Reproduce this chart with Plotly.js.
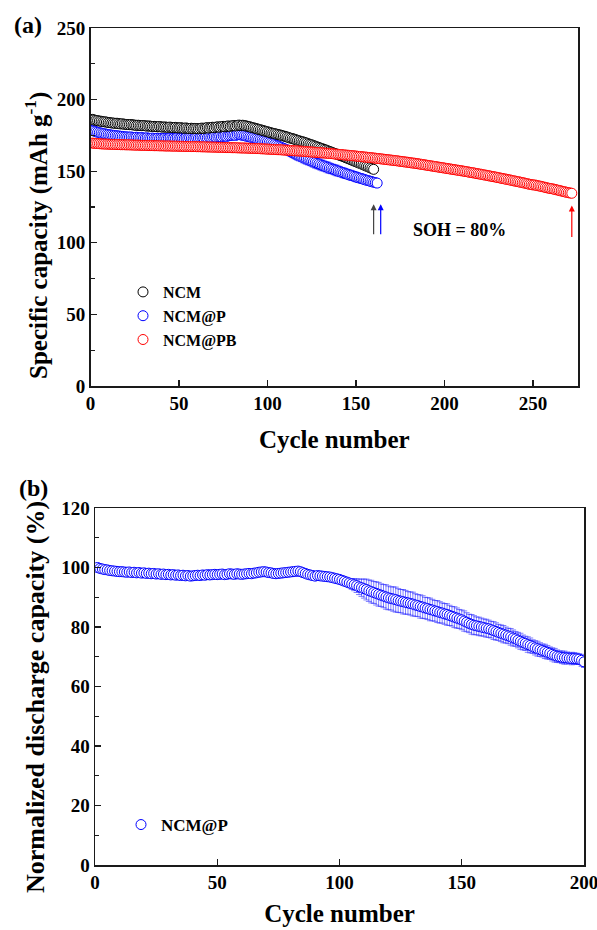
<!DOCTYPE html>
<html>
<head>
<meta charset="utf-8">
<script src="https://cdn.plot.ly/plotly-3.0.1.min.js"></script>
<style>html,body{margin:0;padding:0;background:#fff;}#chart{width:597px;height:930px;}</style>
</head>
<body>
<div id="chart"></div>
<script>
// ---------- Panel (a): specific capacity (mAh g-1) per cycle ----------
const ncmCap = [
186.2,185.8,185.5,185.3,185.0,184.9,184.6,184.5,184.3,184.0,
183.9,183.7,183.6,183.4,183.5,183.2,183.0,183.1,182.8,182.7,
182.6,182.5,182.6,182.3,182.2,182.0,182.1,181.9,181.8,181.9,
181.7,181.5,181.6,181.4,181.2,181.3,181.1,181.0,181.2,180.9,
180.8,180.9,180.7,180.6,180.8,180.5,180.4,180.6,180.3,180.2,
180.4,180.1,180.0,180.2,179.9,179.8,180.0,179.7,179.9,179.8,
179.6,179.9,180.1,179.8,180.2,180.4,180.1,180.5,180.7,180.4,
180.8,181.0,180.7,181.1,181.3,181.0,181.4,181.6,181.3,181.7,
181.9,181.6,182.0,182.2,181.9,182.1,181.8,181.6,181.3,181.0,
180.6,180.3,180.0,179.6,179.3,178.9,178.6,178.2,177.9,177.5,
177.2,176.8,176.5,176.2,175.9,175.6,175.3,175.0,174.6,174.3,
173.9,173.5,173.1,172.8,172.4,172.0,171.6,171.2,170.8,170.5,
170.1,169.7,169.2,168.8,168.4,167.9,167.5,167.0,166.6,166.1,
165.7,165.2,164.8,164.3,163.8,163.4,162.9,162.4,162.0,161.5,
161.0,160.6,160.1,159.6,159.1,158.6,158.1,157.6,157.1,156.6,
156.1,155.6,155.1,154.6,154.0,153.5,153.0,152.4,151.9,151.3];
const ncmErr = 1.0;

const ncmPCap = [
178.5,178.0,177.6,177.2,176.9,176.6,176.3,176.1,175.8,175.6,
175.4,175.2,175.0,174.9,174.7,174.6,174.4,174.3,174.1,174.0,
173.9,173.8,173.9,173.6,173.5,173.7,173.4,173.3,173.5,173.2,
173.1,173.3,173.0,172.9,173.1,172.8,172.9,173.0,172.7,172.9,
172.8,173.0,172.7,172.9,173.1,172.8,173.0,172.9,173.2,172.9,
173.1,173.0,172.8,173.2,173.0,173.3,173.1,172.9,173.2,173.4,
173.1,173.3,173.5,173.2,173.6,173.4,173.7,173.5,173.8,174.0,
173.8,174.1,174.3,174.0,174.4,174.6,174.3,174.7,174.9,175.1,
175.3,175.0,175.4,175.6,175.3,175.1,174.8,174.5,174.2,173.9,
173.6,173.3,172.9,172.6,172.2,171.9,171.5,171.2,170.8,170.4,
170.0,169.6,169.1,168.6,168.1,167.6,167.1,166.6,166.0,165.5,
164.9,164.3,163.7,163.1,162.5,161.9,161.3,160.7,160.2,159.6,
159.1,158.6,158.0,157.5,157.0,156.5,156.0,155.5,155.0,154.5,
154.0,153.6,153.1,152.7,152.2,151.8,151.4,150.9,150.5,150.1,
149.7,149.2,148.8,148.4,148.0,147.6,147.2,146.8,146.4,146.0,
145.6,145.2,144.9,144.5,144.1,143.7,143.4,143.0,142.7,142.3,
142.0,141.7];
const ncmPErr = [
1.0,0.9,0.9,0.8,0.9,0.8,0.8,0.9,0.8,0.8,
0.8,0.9,0.8,0.8,0.9,0.8,0.8,0.8,0.9,0.8,
0.9,0.8,0.8,0.9,0.8,0.8,0.9,0.8,0.8,0.8,
0.8,0.9,0.8,0.8,0.8,0.9,0.8,0.8,0.9,0.8,
0.8,0.8,0.9,0.8,0.8,0.9,0.8,0.8,0.8,0.9,
0.8,0.9,0.8,0.8,0.9,0.8,0.8,0.9,0.8,0.8,
0.9,0.8,0.8,0.8,0.9,0.8,0.9,0.8,0.8,0.9,
0.8,0.8,0.9,0.8,0.8,0.9,0.8,0.8,0.9,0.8,
0.9,0.8,0.8,0.9,0.8,0.9,0.8,0.9,0.9,1.0,
1.0,1.0,1.1,1.0,1.1,1.1,1.2,1.1,1.2,1.2,
1.2,1.4,1.6,1.8,2.0,2.2,2.4,2.6,2.8,3.0,
3.2,3.4,3.5,3.6,3.5,3.7,3.8,3.6,3.5,3.7,
3.8,3.9,3.7,3.6,3.8,3.9,4.0,3.8,3.7,3.9,
3.8,3.6,3.7,3.9,3.8,3.6,3.5,3.7,3.8,3.6,
3.5,3.4,3.6,3.5,3.3,3.4,3.5,3.3,3.2,3.4,
3.3,3.1,3.2,3.0,3.1,2.9,3.0,2.8,2.9,2.7,
2.6,2.5];

const ncmPBCap = [
169.6,169.5,169.4,169.3,169.2,169.1,169.0,169.0,168.9,168.9,
168.8,168.8,168.7,168.7,168.6,168.6,168.5,168.5,168.5,168.4,
168.4,168.4,168.3,168.3,168.2,168.2,168.2,168.1,168.1,168.0,
168.0,168.0,167.9,167.9,167.9,167.8,167.8,167.8,167.7,167.7,
167.7,167.6,167.6,167.6,167.6,167.5,167.5,167.5,167.5,167.4,
167.4,167.4,167.3,167.3,167.3,167.3,167.2,167.2,167.2,167.1,
167.1,167.1,167.0,167.0,167.0,166.9,166.9,166.9,166.8,166.8,
166.8,166.7,166.7,166.7,166.6,166.6,166.5,166.5,166.5,166.4,
166.4,166.4,166.3,166.3,166.2,166.2,166.2,166.1,166.1,166.0,
166.0,165.9,165.9,165.8,165.8,165.7,165.6,165.6,165.5,165.4,
165.4,165.3,165.2,165.2,165.1,165.0,165.0,164.9,164.8,164.7,
164.7,164.6,164.5,164.4,164.3,164.2,164.2,164.1,164.0,163.9,
163.8,163.7,163.6,163.5,163.4,163.3,163.2,163.1,163.0,162.9,
162.8,162.7,162.6,162.5,162.4,162.3,162.2,162.0,161.9,161.8,
161.7,161.6,161.4,161.3,161.2,161.1,160.9,160.8,160.7,160.6,
160.4,160.3,160.2,160.0,159.9,159.8,159.6,159.5,159.4,159.2,
159.1,158.9,158.8,158.6,158.5,158.3,158.2,158.0,157.9,157.7,
157.6,157.4,157.3,157.1,156.9,156.8,156.6,156.4,156.3,156.1,
155.9,155.7,155.6,155.4,155.2,155.0,154.8,154.6,154.4,154.2,
154.0,153.8,153.6,153.4,153.2,153.0,152.8,152.6,152.4,152.2,
152.0,151.8,151.6,151.4,151.2,151.0,150.8,150.6,150.4,150.2,
150.0,149.8,149.6,149.3,149.1,148.9,148.7,148.4,148.2,148.0,
147.8,147.5,147.3,147.1,146.8,146.6,146.3,146.1,145.9,145.6,
145.4,145.1,144.9,144.6,144.4,144.1,143.9,143.6,143.3,143.1,
142.8,142.6,142.3,142.0,141.8,141.5,141.2,140.9,140.7,140.4,
140.4,140.1,139.8,139.6,139.3,139.0,138.7,138.4,138.1,137.9,
137.7,137.4,137.1,136.8,136.5,136.2,135.9,135.6,135.3,135.0,
134.8,134.6];
const ncmPBErr = 1.6;

// ---------- Panel (b): normalized discharge capacity (%) of NCM@P ----------
const normCap = [
100.0,99.7,99.5,99.3,99.2,99.0,98.9,98.8,98.7,98.6,
98.6,98.5,98.4,98.5,98.3,98.4,98.2,98.3,98.1,98.2,
98.0,98.1,97.9,98.0,97.8,97.9,97.7,97.8,97.6,97.7,
97.5,97.6,97.4,97.5,97.3,97.4,97.2,97.3,97.1,97.2,
97.3,97.4,97.3,97.5,97.4,97.6,97.5,97.6,97.7,97.6,
97.7,97.8,97.6,97.7,97.9,97.8,97.7,97.9,97.8,97.7,
97.8,97.9,98.0,97.9,98.1,98.2,98.4,98.5,98.6,98.5,
98.3,98.2,98.0,97.9,98.0,98.1,98.2,98.3,98.4,98.5,
98.6,98.7,98.8,98.6,98.3,98.0,97.7,97.5,97.3,97.1,
97.3,97.2,97.1,97.0,96.9,96.8,96.6,96.4,96.2,96.0,
95.7,95.4,95.1,94.8,94.5,94.2,93.9,93.5,93.2,92.9,
92.6,92.2,91.9,91.6,91.3,91.0,90.7,90.4,90.1,89.8,
89.6,89.4,89.2,88.9,88.7,88.5,88.3,88.1,87.9,87.7,
87.4,87.2,86.9,86.7,86.4,86.2,85.9,85.7,85.4,85.2,
84.9,84.7,84.4,84.2,83.9,83.6,83.3,83.0,82.7,82.4,
82.0,81.6,81.2,80.9,80.6,80.4,80.2,80.0,79.8,79.6,
79.4,79.1,78.8,78.5,78.2,77.9,77.6,77.3,77.0,76.7,
76.3,76.0,75.6,75.2,74.8,74.5,74.1,73.8,73.4,73.0,
72.7,72.4,72.1,71.8,71.5,71.2,70.8,70.5,70.2,70.0,
69.8,69.7,69.6,69.5,69.4,69.4,69.3,69.2,68.8,68.3];
const normErr = [
0.5,0.6,0.5,0.5,0.6,0.5,0.5,0.6,0.5,0.5,
0.5,0.6,0.5,0.5,0.5,0.6,0.5,0.5,0.6,0.5,
0.5,0.5,0.6,0.5,0.5,0.6,0.5,0.5,0.5,0.6,
0.5,0.6,0.5,0.5,0.6,0.5,0.5,0.5,0.6,0.5,
0.5,0.6,0.5,0.5,0.5,0.6,0.5,0.6,0.5,0.5,
0.6,0.5,0.5,0.6,0.5,0.5,0.5,0.6,0.5,0.5,
0.5,0.6,0.5,0.5,0.6,0.5,0.6,0.5,0.5,0.6,
0.5,0.5,0.6,0.5,0.5,0.6,0.5,0.5,0.6,0.5,
0.6,0.5,0.5,0.6,0.5,0.6,0.6,0.6,0.7,0.7,
0.7,0.7,0.8,0.7,0.8,0.8,0.8,0.8,0.9,0.9,
0.8,1.0,1.2,1.5,1.8,2.0,2.3,2.6,2.9,3.2,
3.5,3.6,3.8,3.7,3.9,4.0,3.8,3.9,4.1,4.0,
3.9,4.1,4.2,4.0,3.9,4.1,4.0,3.8,3.9,4.0,
3.8,3.7,3.9,3.8,3.6,3.7,3.8,3.6,3.5,3.7,
3.6,3.4,3.5,3.6,3.4,3.3,3.5,3.4,3.2,3.3,
3.4,3.2,3.1,3.3,3.2,3.0,3.1,3.0,2.9,3.0,
2.9,2.8,3.0,2.9,2.7,2.8,2.9,2.7,2.6,2.8,
2.7,2.5,2.6,2.7,2.5,2.4,2.6,2.5,2.3,2.4,
2.5,2.3,2.2,2.4,2.3,2.1,2.2,2.3,2.1,2.0,
2.1,2.2,2.0,1.9,2.1,2.0,1.9,1.8,2.0,1.9];

const seriesNames = ["NCM", "NCM@P", "NCM@PB"];
const xTicksA = [0, 50, 100, 150, 200, 250];
const yTicksA = [0, 50, 100, 150, 200, 250];
const xTicksB = [0, 50, 100, 150, 200];
const yTicksB = [0, 20, 40, 60, 80, 100, 120];
const sohLabel = "SOH = 80%";
const xTitle = "Cycle number";
const yTitleA = "Specific capacity (mAh g<sup>-1</sup>)";
const yTitleB = "Normalized discharge capacity (%)";

// ---------- build ----------
const cycles = arr => arr.map((_, i) => i + 1);
const FONT = "Liberation Serif";

function capTrace(name, y, err, color, errColor, xa, ya, legend, rank) {
  const e = Array.isArray(err)
    ? {type: "data", array: err, visible: true}
    : {type: "constant", value: err, visible: true};
  Object.assign(e, {color: errColor, thickness: 1, width: 3});
  return {
    type: "scatter", mode: "markers", name: name,
    x: cycles(y), y: y, xaxis: xa, yaxis: ya, legend: legend, legendrank: rank,
    marker: {symbol: "circle", size: 10, color: "#ffffff", line: {color: color, width: 1}},
    error_y: e
  };
}

const data = [
  capTrace(seriesNames[1], ncmPCap, ncmPErr, "#0000ff", "rgba(40,40,255,0.55)", "x", "y", "legend", 2),
  capTrace(seriesNames[0], ncmCap, ncmErr, "#000000", "rgba(0,0,0,0.4)", "x", "y", "legend", 1),
  capTrace(seriesNames[2], ncmPBCap, ncmPBErr, "#ff0000", "rgba(255,40,40,0.5)", "x", "y", "legend", 3),
  capTrace(seriesNames[1], normCap, normErr, "#0000ff", "rgba(40,40,255,0.6)", "x2", "y2", "legend2", 1)
];

const W = 597, H = 930;
const px = v => v / W, py = v => 1 - v / H;

const tickFont = {family: FONT, size: 19, color: "#000", weight: "bold"};
const titleFont = {family: FONT, size: 25, color: "#000", weight: "bold"};
function axis(extra) {
  return Object.assign({
    showline: true, mirror: true, linecolor: "#1a1a1a", linewidth: 1.5,
    ticks: "inside", ticklen: 6, tickwidth: 1.3, tickcolor: "#1a1a1a",
    showgrid: false, zeroline: false, tickfont: tickFont, automargin: false,
    ticklabeloverflow: "allow"
  }, extra);
}

const endN = ncmCap.length, endP = ncmPCap.length, endPB = ncmPBCap.length;
const arrowTip = 127, arrowTail = 105;

const layout = {
  width: W, height: H,
  margin: {l: 0, r: 0, t: 0, b: 0},
  paper_bgcolor: "#fff", plot_bgcolor: "#fff",
  font: {family: FONT, color: "#000"},
  xaxis: axis({domain: [px(90.5), px(578)], range: [0, 275.5], anchor: "y",
    tickvals: xTicksA, ticktext: xTicksA.map(String),
    title: {text: xTitle, font: titleFont, standoff: 17}}),
  yaxis: axis({domain: [py(386), py(28)], range: [0, 250], anchor: "x",
    tickvals: yTicksA, ticktext: yTicksA.map(String),
    minor: {dtick: 25, tick0: 0, ticks: "inside", ticklen: 4, tickcolor: "#1a1a1a", tickwidth: 1.2}}),
  xaxis2: axis({domain: [px(95), px(584)], range: [0, 200], anchor: "y2",
    tickvals: xTicksB, ticktext: xTicksB.map(String),
    title: {text: xTitle, font: titleFont, standoff: 12}}),
  yaxis2: axis({domain: [py(865), py(508)], range: [0, 120], anchor: "x2",
    tickvals: yTicksB, ticktext: yTicksB.map(String),
    minor: {dtick: 10, tick0: 0, ticks: "inside", ticklen: 4, tickcolor: "#1a1a1a", tickwidth: 1.2}}),
  showlegend: true,
  legend: {x: px(123), y: py(275), xanchor: "left", yanchor: "top",
    bgcolor: "rgba(0,0,0,0)", borderwidth: 0, tracegroupgap: 0,
    font: {family: FONT, size: 16, color: "#000", weight: "bold"}},
  legend2: {x: px(121), y: py(807), xanchor: "left", yanchor: "top",
    bgcolor: "rgba(0,0,0,0)", borderwidth: 0,
    font: {family: FONT, size: 17, color: "#000", weight: "bold"}},
  annotations: [
    {xref: "paper", yref: "paper", x: px(36), y: py(236), text: yTitleA, textangle: -90, showarrow: false,
      xanchor: "center", yanchor: "middle", font: titleFont},
    {xref: "paper", yref: "paper", x: px(35), y: py(697), text: yTitleB, textangle: -90, showarrow: false,
      xanchor: "center", yanchor: "middle", font: Object.assign({}, titleFont, {size: 26})},
    {xref: "paper", yref: "paper", x: px(28), y: py(25), text: "(a)", showarrow: false,
      xanchor: "center", yanchor: "middle", font: {family: FONT, size: 24, weight: "bold"}},
    {xref: "paper", yref: "paper", x: px(33), y: py(488), text: "(b)", showarrow: false,
      xanchor: "center", yanchor: "middle", font: {family: FONT, size: 24, weight: "bold"}},
    {xref: "x", yref: "y", x: 208.8, y: 109, text: sohLabel, showarrow: false,
      xanchor: "center", yanchor: "middle", font: {family: FONT, size: 18, weight: "bold"}},
    {xref: "x", yref: "y", axref: "x", ayref: "y", x: endN, y: arrowTip, ax: endN, ay: arrowTail,
      text: "", showarrow: true, arrowhead: 2, arrowsize: 1, arrowwidth: 1.2, arrowcolor: "#444"},
    {xref: "x", yref: "y", axref: "x", ayref: "y", x: endP + 2, y: arrowTip, ax: endP + 2, ay: arrowTail,
      text: "", showarrow: true, arrowhead: 2, arrowsize: 1, arrowwidth: 1.2, arrowcolor: "#0000ff"},
    {xref: "x", yref: "y", axref: "x", ayref: "y", x: endPB, y: arrowTip - 1, ax: endPB, ay: arrowTail - 2,
      text: "", showarrow: true, arrowhead: 2, arrowsize: 1, arrowwidth: 1.2, arrowcolor: "#ff0000"}
  ]
};

Plotly.newPlot("chart", data, layout, {staticPlot: true, displayModeBar: false});
</script>
</body>
</html>
